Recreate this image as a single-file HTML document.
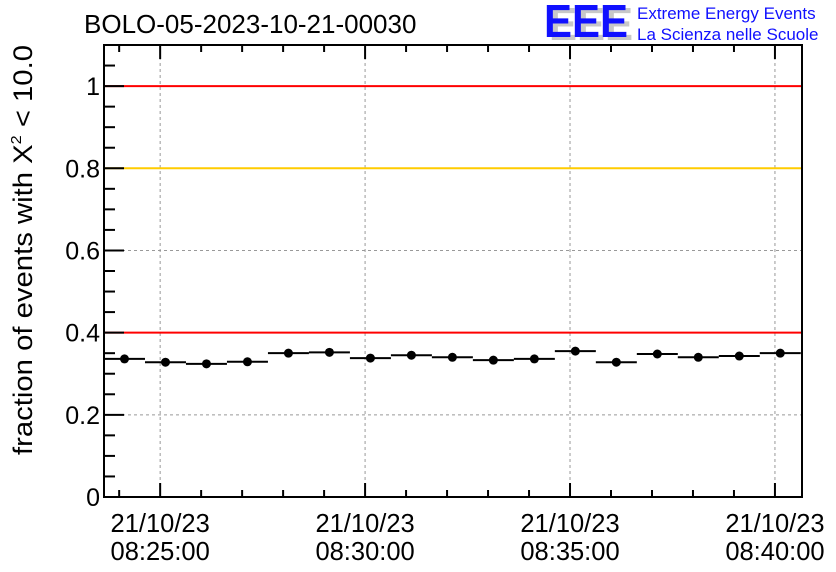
<!DOCTYPE html>
<html><head><meta charset="utf-8"><style>
body{margin:0;background:#fff;}
svg{display:block;font-family:"Liberation Sans",Arial,sans-serif;}
</style></head><body>
<svg id="chart" width="836" height="572" viewBox="0 0 836 572">
<text x="84" y="33" font-size="26" fill="#000">BOLO-05-2023-10-21-00030</text>
<g>
<text x="549" y="40" font-size="46" font-weight="bold" fill="#c8c8c8" textLength="84" lengthAdjust="spacingAndGlyphs">EEE</text>
<text x="544" y="37" font-size="46" font-weight="bold" fill="#1010ff" textLength="84" lengthAdjust="spacingAndGlyphs">EEE</text>
<text x="637" y="19" font-size="17" fill="#1010ff">Extreme Energy Events</text>
<text x="637" y="40" font-size="17" fill="#1010ff">La Scienza nelle Scuole</text>
</g>
<text transform="translate(32,250) rotate(-90)" text-anchor="middle" font-size="27" textLength="410" lengthAdjust="spacingAndGlyphs">fraction of events with Χ<tspan dy="-11" font-size="15">2</tspan><tspan dy="11"> &lt; 10.0</tspan></text>
<g id="plot"></g>
</svg>
<script>
const values=[0.336,0.328,0.324,0.329,0.350,0.352,0.338,0.345,0.340,0.333,0.336,0.355,0.328,0.348,0.340,0.343,0.350];
const binStartMin=[-1.37,-0.37,0.63,1.63,2.63,3.63,4.63,5.63,6.63,7.63,8.63,9.63,10.63,11.63,12.63,13.63,14.63];
const yTicks=[0,0.2,0.4,0.6,0.8,1];
const yTickLabels=["0","0.2","0.4","0.6","0.8","1"];
const xTicksMin=[0,5,10,15];
const xTickLabels=["08:25:00","08:30:00","08:35:00","08:40:00"];
const thresholds=[1,0.8,0.4];
const thresholdColors=["#ff0000","#ffcc00","#ff0000"];
const L=104,R=802,T=45,B=497;
const xMin=-1.37,xMax=15.66,yMin=0,yMax=1.1;
function X(m){return L+(m-xMin)/(xMax-xMin)*(R-L);}
function Y(v){return B-(v-yMin)/(yMax-yMin)*(B-T);}
const g=document.getElementById('plot');
const NS="http://www.w3.org/2000/svg";
function mk(t,a,name){const e=document.createElementNS(NS,t);for(const k in a)e.setAttribute(k,a[k]);


g.appendChild(e);return e;}
yTicks.forEach((v,i)=>{if(v>0)mk('line',{x1:L,x2:R,y1:Y(v),y2:Y(v),stroke:'#999','stroke-dasharray':'3,3','stroke-width':1},'y-grid-line');});
xTicksMin.forEach(m=>{mk('line',{x1:X(m),x2:X(m),y1:T,y2:B,stroke:'#999','stroke-dasharray':'3,3','stroke-width':1},'x-grid-line');});
thresholds.forEach((v,i)=>{mk('line',{x1:L,x2:R,y1:Y(v),y2:Y(v),stroke:thresholdColors[i],'stroke-width':2},'threshold-line');});
mk('rect',{x:L,y:T,width:R-L,height:B-T,fill:'none',stroke:'#000','stroke-width':2},'plot-frame');
for(let k=0;k<=22;k++){const v=k*0.05;const maj=(k%4===0);mk('line',{x1:L,x2:L+(maj?20:11),y1:Y(v),y2:Y(v),stroke:'#000','stroke-width':2},'y-tick');}
yTicks.forEach((v,i)=>{const t=mk('text',{x:L-4,y:Y(v)+9,'text-anchor':'end','font-size':25},'y-tick-label');t.textContent=yTickLabels[i];});
for(let m=-1;m<=15;m++){const maj=(m%5===0);const len=maj?14:7;
mk('line',{x1:X(m),x2:X(m),y1:B,y2:B-len,stroke:'#000','stroke-width':2},'x-tick');
mk('line',{x1:X(m),x2:X(m),y1:T,y2:T+len,stroke:'#000','stroke-width':2},'x-tick-top');}
xTicksMin.forEach((m,i)=>{
const t1=mk('text',{x:X(m),y:532,'text-anchor':'middle','font-size':25.5},'x-tick-date');t1.textContent="21/10/23";
const t2=mk('text',{x:X(m),y:560,'text-anchor':'middle','font-size':25.5},'x-tick-time');t2.textContent=xTickLabels[i];});
values.forEach((v,i)=>{const a=binStartMin[i],b=a+1;
mk('line',{x1:X(a),x2:X(b),y1:Y(v),y2:Y(v),stroke:'#000','stroke-width':2},'data-bin');
mk('circle',{cx:X(a+0.5),cy:Y(v),r:4.5,fill:'#000'},'data-point');});
</script>
</body></html>
